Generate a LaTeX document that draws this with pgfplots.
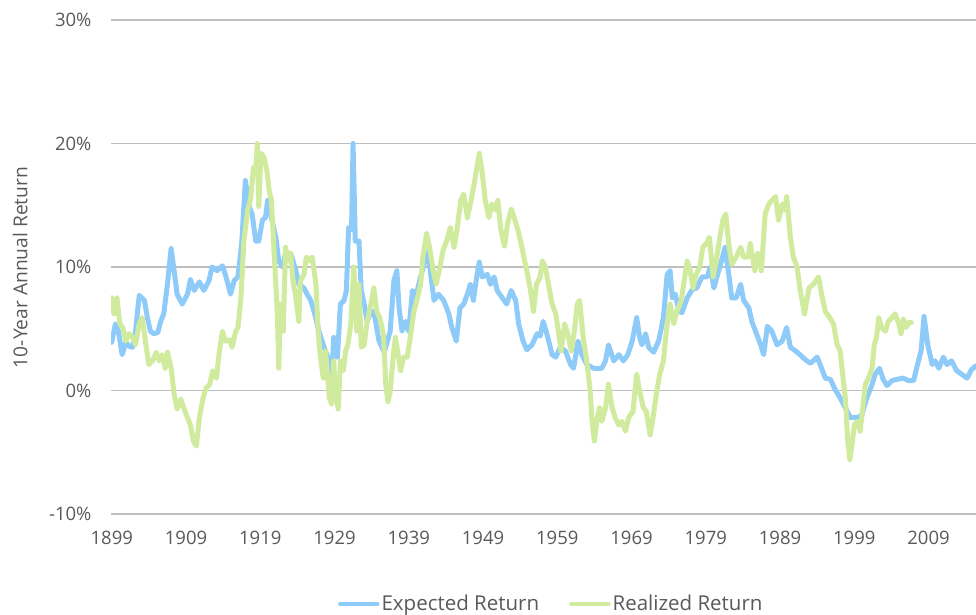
\documentclass[border=0pt]{standalone}
\usepackage{pgfplots}
\pgfplotsset{compat=1.18}
\usepackage{fontspec}
\setmainfont{Open Sans}
\definecolor{expblue}{RGB}{143,203,249}
\definecolor{realgreen}{RGB}{209,235,158}
\definecolor{txt}{RGB}{89,89,89}
\definecolor{grid}{RGB}{217,217,217}
\begin{document}
\begin{tikzpicture}
\useasboundingbox (0,0) rectangle (976pt,615pt);
\begin{axis}[
  at={(111pt,101pt)}, anchor=south west,
  scale only axis, width=865pt, height=494pt,
  xmin=1898.9, xmax=2015.4, ymin=-10, ymax=30,
  clip mode=individual,
  axis line style={draw=none},
  major tick length=0pt,
  tick style={draw=none},
  xmajorgrids=false,
  xtick={1899,1909,1919,1929,1939,1949,1959,1969,1979,1989,1999,2009},
  xticklabels={1899,1909,1919,1929,1939,1949,1959,1969,1979,1989,1999,2009},
  ytick={-10,0,10,20,30},
  yticklabels={-10\%,0\%,10\%,20\%,30\%},
  ymajorgrids=true, grid style={grid, line width=1.5pt},
  every tick label/.append style={font=\fontsize{18.5pt}{22pt}\selectfont, text=txt},
  yticklabel style={anchor=east, xshift=-16pt},
  xticklabel style={anchor=north, yshift=-14pt},
  legend style={draw=none, fill=none, at={(0.509,-0.182)}, anchor=center,
    legend columns=2, font=\fontsize{20.5pt}{24pt}\selectfont, text=txt,
    nodes={inner xsep=2pt},
    /tikz/every even column/.append style={column sep=28pt},
    inner sep=0pt},
  legend image code/.code={\draw[#1, line width=4.5pt] (0pt,0pt) -- (37pt,0pt);},
  every axis plot/.append style={line width=5pt, line join=round, line cap=round},
]
\addplot[expblue] coordinates {
(1899.0,3.9) (1899.5,5.4) (1899.9,4.8) (1900.4,2.9) (1900.9,3.9) (1901.3,3.6) (1901.8,3.5) (1902.2,4.8) (1902.7,7.7) (1903.4,7.3)
(1903.8,5.9) (1904.2,4.8) (1904.7,4.6) (1905.2,4.7) (1905.6,5.6) (1906.0,6.2) (1906.5,8.6) (1907.0,11.5) (1907.4,9.7) (1907.8,7.8)
(1908.5,7.0) (1909.2,7.8) (1909.6,9.0) (1910.1,8.1) (1910.8,8.8) (1911.4,8.1) (1912.1,8.9) (1912.5,10.0) (1913.2,9.7) (1913.9,10.1)
(1914.3,9.4) (1915.0,7.8) (1915.5,8.9) (1916.0,9.2) (1916.5,11.9) (1917.0,17.0) (1917.5,14.9) (1917.9,14.3) (1918.4,12.1) (1918.8,12.1)
(1919.3,13.8) (1919.7,14.0) (1920.0,15.4) (1920.5,14.0) (1921.1,12.4) (1921.5,10.5) (1922.0,10.0) (1922.4,11.1) (1923.1,11.1) (1923.8,9.7)
(1924.2,8.6) (1924.9,8.3) (1925.3,7.8) (1925.8,7.3) (1926.3,6.3) (1926.9,4.8) (1927.6,3.5) (1928.3,2.4) (1928.6,0.8) (1928.9,4.3)
(1929.4,2.7) (1929.8,7.0) (1930.3,7.3) (1930.6,8.1) (1930.9,13.2) (1931.3,13.0) (1931.5,20.0) (1931.8,12.1) (1932.3,12.1) (1932.6,8.1)
(1933.0,7.0) (1933.4,5.6) (1933.9,6.4) (1934.3,6.4) (1935.0,4.0) (1935.7,3.1) (1936.5,4.8) (1937.0,8.9) (1937.4,9.7) (1937.7,6.7)
(1938.1,4.8) (1938.6,5.6) (1939.0,4.8) (1939.5,8.1) (1939.9,7.5) (1940.6,9.2) (1941.3,10.8) (1941.6,11.3) (1941.9,9.7) (1942.4,7.3)
(1943.0,7.8) (1943.7,7.3) (1944.4,6.2) (1944.8,5.1) (1945.4,4.0) (1945.9,6.7) (1946.4,7.0) (1946.9,7.8) (1947.3,8.6) (1947.7,7.3)
(1948.2,9.4) (1948.5,10.4) (1948.9,9.2) (1949.6,9.4) (1950.0,8.6) (1950.5,9.2) (1950.9,8.1) (1951.6,7.5) (1952.2,7.0) (1952.8,8.1)
(1953.4,7.3) (1953.8,5.4) (1954.4,4.0) (1954.9,3.3) (1955.6,3.7) (1956.3,4.6) (1956.7,4.4) (1957.1,5.6) (1957.6,4.6) (1958.3,2.9)
(1958.8,2.7) (1959.4,3.5) (1960.1,3.2) (1960.8,2.1) (1961.2,1.8) (1961.8,4.0) (1962.3,2.9) (1963.0,2.1) (1963.9,1.8) (1965.0,1.8)
(1965.5,2.4) (1965.9,3.7) (1966.6,2.4) (1967.3,2.9) (1967.9,2.4) (1968.5,2.9) (1969.1,4.0) (1969.7,5.9) (1970.1,4.3) (1970.4,3.7)
(1970.9,4.6) (1971.3,3.5) (1972.0,3.1) (1972.7,4.1) (1973.3,5.9) (1973.8,9.4) (1974.2,9.7) (1974.5,7.5) (1974.9,7.8) (1975.4,6.4)
(1975.8,6.3) (1976.5,7.5) (1977.2,8.2) (1977.8,8.3) (1978.5,9.2) (1979.2,9.2) (1979.6,10.0) (1980.1,8.3) (1980.5,9.2) (1981.0,10.2)
(1981.6,11.6) (1982.1,9.4) (1982.5,7.5) (1983.1,7.5) (1983.7,8.6) (1984.1,7.3) (1984.8,6.7) (1985.2,5.6) (1985.7,4.8) (1986.4,3.7)
(1986.8,2.9) (1987.3,5.2) (1987.9,4.8) (1988.6,3.7) (1989.3,4.0) (1989.9,5.1) (1990.4,3.5) (1991.1,3.2) (1991.7,2.9) (1992.4,2.5)
(1993.1,2.2) (1994.0,2.7) (1994.4,2.1) (1995.1,1.0) (1995.8,0.9) (1996.4,0.1) (1997.1,-0.6) (1997.8,-1.4) (1998.5,-2.2) (1999.4,-2.2)
(2000.0,-2.0) (2000.7,-0.6) (2001.4,0.5) (2001.8,1.3) (2002.4,1.8) (2002.9,0.9) (2003.4,0.4) (2004.1,0.8) (2004.7,0.9) (2005.6,1.0)
(2006.3,0.8) (2007.0,0.8) (2007.4,1.8) (2008.0,3.2) (2008.4,6.0) (2008.9,3.7) (2009.5,2.1) (2009.9,2.4) (2010.4,1.8) (2011.0,2.7)
(2011.5,2.1) (2012.1,2.4) (2012.8,1.6) (2013.5,1.3) (2014.2,1.0) (2014.8,1.7) (2015.4,2.0)
};
\addlegendentry{Expected Return}
\addplot[realgreen] coordinates {
(1899.0,7.5) (1899.3,6.2) (1899.7,7.5) (1900.1,5.4) (1900.5,5.1) (1900.9,4.0) (1901.3,4.6) (1901.8,4.3) (1902.2,3.7) (1902.7,5.4)
(1903.1,5.9) (1903.6,3.7) (1904.0,2.1) (1904.5,2.4) (1905.0,3.1) (1905.4,2.4) (1905.8,2.9) (1906.2,1.8) (1906.5,3.1) (1907.0,1.8)
(1907.4,-0.3) (1907.8,-1.5) (1908.3,-0.7) (1908.7,-1.4) (1909.2,-2.2) (1909.6,-2.8) (1910.0,-4.1) (1910.4,-4.5) (1910.8,-2.2) (1911.3,-0.6)
(1911.7,0.2) (1912.2,0.5) (1912.6,1.6) (1913.1,1.0) (1913.5,3.2) (1913.9,4.8) (1914.3,4.0) (1914.9,4.1) (1915.2,3.5) (1915.7,4.8)
(1916.0,5.1) (1916.4,7.5) (1916.8,12.1) (1917.3,14.6) (1917.7,15.5) (1918.1,18.1) (1918.4,17.6) (1918.6,20.0) (1918.8,14.9) (1919.1,19.2)
(1919.5,18.9) (1919.9,17.8) (1920.2,16.2) (1920.5,15.4) (1920.8,11.9) (1921.1,8.6) (1921.3,6.2) (1921.5,1.8) (1921.7,7.0) (1922.1,4.8)
(1922.4,11.6) (1922.8,10.5) (1923.1,11.1) (1923.4,8.9) (1923.8,7.5) (1924.2,5.6) (1924.4,8.9) (1924.9,9.4) (1925.2,10.8) (1925.6,10.5)
(1926.0,10.8) (1926.5,8.6) (1926.8,4.8) (1927.1,2.7) (1927.5,1.0) (1927.8,3.2) (1928.3,-0.6) (1928.6,-1.1) (1928.9,2.4) (1929.1,-0.1)
(1929.5,-1.5) (1929.8,2.4) (1930.2,1.6) (1930.5,3.2) (1930.8,3.7) (1931.2,5.4) (1931.6,10.0) (1932.0,4.8) (1932.3,8.6) (1932.6,3.5)
(1933.0,3.7) (1933.4,5.6) (1933.9,7.0) (1934.3,8.3) (1934.7,6.4) (1935.1,5.9) (1935.6,4.5) (1935.9,0.5) (1936.2,-0.9) (1936.5,-0.1)
(1936.9,2.7) (1937.2,4.3) (1937.5,3.2) (1937.9,1.6) (1938.3,2.7) (1938.8,2.7) (1939.2,4.3) (1939.7,6.4) (1940.1,7.3) (1940.6,8.6)
(1940.9,10.8) (1941.4,12.7) (1941.8,11.6) (1942.3,9.7) (1942.7,8.6) (1943.2,10.0) (1943.6,11.3) (1944.1,12.1) (1944.6,13.2) (1945.1,11.6)
(1945.5,13.0) (1946.0,15.4) (1946.4,15.9) (1946.9,14.0) (1947.3,15.1) (1947.8,16.7) (1948.2,18.1) (1948.5,19.2) (1948.9,17.6) (1949.3,15.4)
(1949.8,14.0) (1950.2,15.1) (1950.7,14.6) (1951.0,15.4) (1951.4,13.0) (1951.9,11.7) (1952.3,13.5) (1952.8,14.7) (1953.2,14.0) (1953.7,13.0)
(1954.1,12.0) (1954.5,10.8) (1954.9,9.7) (1955.4,8.1) (1955.8,6.4) (1956.2,8.6) (1956.7,9.2) (1957.0,10.5) (1957.4,10.0) (1957.9,8.3)
(1958.3,7.0) (1958.8,6.2) (1959.2,4.6) (1959.5,3.2) (1960.0,5.4) (1960.4,4.6) (1960.9,3.2) (1961.3,4.8) (1961.7,7.0) (1962.0,7.3)
(1962.5,4.3) (1962.9,2.7) (1963.4,0.2) (1963.7,-2.5) (1964.0,-4.1) (1964.4,-2.2) (1964.7,-1.4) (1965.0,-2.5) (1965.5,-1.4) (1965.9,0.5)
(1966.4,-1.4) (1966.8,-2.2) (1967.3,-2.8) (1967.7,-2.5) (1968.2,-3.3) (1968.6,-2.2) (1969.2,-1.7) (1969.7,1.3) (1970.1,-0.1) (1970.6,-1.4)
(1971.0,-1.7) (1971.5,-3.6) (1971.9,-2.2) (1972.4,-0.1) (1972.8,1.3) (1973.3,2.4) (1973.8,5.4) (1974.2,7.0) (1974.7,5.4) (1975.1,6.4)
(1975.7,7.3) (1976.1,8.9) (1976.5,10.5) (1976.9,9.7) (1977.3,8.3) (1977.7,9.4) (1978.2,10.0) (1978.6,11.6) (1979.1,11.9) (1979.5,12.4)
(1980.0,9.2) (1980.4,10.5) (1980.9,12.4) (1981.3,13.8) (1981.7,14.3) (1982.1,11.9) (1982.5,10.2) (1983.1,10.8) (1983.7,11.6) (1984.1,10.8)
(1984.7,10.8) (1985.0,11.9) (1985.6,9.7) (1986.0,11.1) (1986.5,9.7) (1987.0,14.3) (1987.5,15.1) (1987.9,15.4) (1988.4,15.7) (1988.8,13.8)
(1989.3,15.1) (1989.6,14.6) (1989.9,15.7) (1990.4,12.4) (1990.8,10.8) (1991.3,10.0) (1991.7,8.2) (1992.3,6.2) (1992.9,8.3) (1993.5,8.6)
(1994.2,9.2) (1994.6,7.8) (1995.1,6.4) (1995.7,5.9) (1996.2,5.4) (1996.7,3.7) (1997.1,3.2) (1997.5,1.0) (1997.8,-0.6) (1998.1,-3.8)
(1998.4,-5.6) (1998.7,-4.4) (1999.0,-2.8) (1999.4,-2.5) (1999.8,-3.3) (2000.2,-1.1) (2000.5,0.5) (2000.9,1.0) (2001.4,1.8) (2001.7,3.7)
(2002.0,4.3) (2002.3,5.9) (2002.7,5.1) (2003.2,4.8) (2003.6,5.6) (2004.1,5.9) (2004.5,6.2) (2005.0,5.4) (2005.3,4.6) (2005.6,5.8)
(2006.0,5.1) (2006.3,5.5) (2006.7,5.5)
};
\addlegendentry{Realized Return}
\node[rotate=90, text=txt, font=\fontsize{19.2pt}{23pt}\selectfont] at (axis description cs:-0.105,0.499) {10-Year Annual Return};
\end{axis}
\end{tikzpicture}
\end{document}
